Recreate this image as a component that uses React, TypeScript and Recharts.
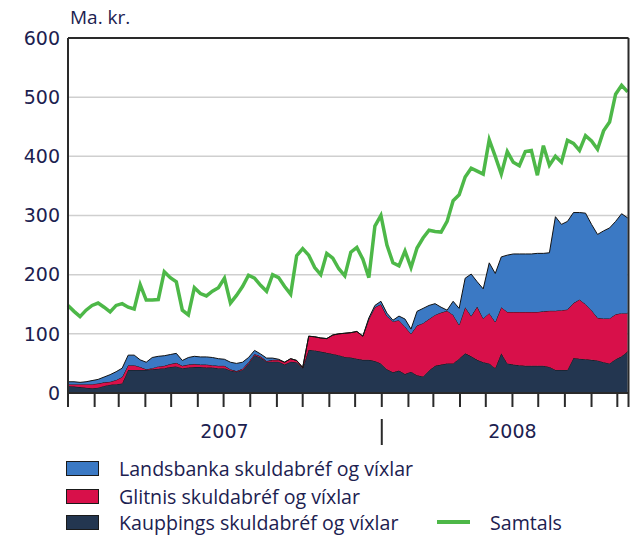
import React from 'react';
import { ComposedChart, Area, Line, XAxis, YAxis, CartesianGrid, ReferenceLine } from 'recharts';

// Weekly values (ma. kr.), starting first week of January 2007
const kaupthing = [12,11,10,9,8,9,12,14,15,16,39,39,39,39,40,41,42,44,45,42,43,44,44,43,43,42,42,38,36,39,50,64,60,53,53,53,48,53,52,42,73,72,70,68,66,64,61,60,58,56,56,54,50,40,35,38,32,36,30,28,38,46,48,50,50,58,67,62,56,52,50,42,67,50,48,47,46,46,46,46,44,39,39,39,59,58,57,56,55,52,50,57,62,70];
const glitnir = [3,4,5,6,7,7,6,5,7,11,8,8,5,1,2,4,4,5,6,4,5,5,4,5,4,4,4,2,1,2,2,2,2,1,3,3,4,5,3,1,23,23,23,24,32,36,40,42,46,40,69,91,100,90,86,85,80,64,84,90,87,86,88,89,82,57,78,68,90,74,85,78,78,87,89,90,91,91,91,92,95,100,101,102,93,100,93,84,72,74,76,76,73,65];
const landsbanki = [4,4,3,4,6,7,9,12,14,15,17,17,12,12,18,17,17,16,16,9,12,13,13,13,13,12,11,12,13,11,8,6,4,5,3,1,0,0,0,0,0,0,0,0,0,0,0,0,0,0,2,3,5,5,2,7,13,8,24,25,23,19,9,1,23,28,49,71,42,50,85,82,85,96,98,98,98,98,99,98,98,159,145,149,153,147,154,145,141,148,153,157,168,161];
const samtals = [148,138,129,140,148,152,145,137,148,151,145,142,183,157,157,158,205,195,188,140,132,178,168,164,172,178,194,152,165,180,199,194,182,172,200,195,180,167,232,244,233,212,200,236,228,210,198,238,246,226,195,282,300,250,220,215,240,212,245,262,275,273,272,290,325,335,365,380,375,370,428,400,370,408,390,384,408,410,368,418,385,400,390,427,422,410,435,426,412,443,458,505,520,509];

// Axis ticks (days since 1 Jan 2007)
const monthTickDays = [0,31,59,90,120,151,181,212,243,273,304,334,365,396,425,456,486,517,547,578,609,639,652];
const yearTickDays = [182, 365, 517];
const yearDivider = 365;
const yearLabels = ['2007', '2008'];
const yTicks = [0,100,200,300,400,500,600];
const unitLabel = 'Ma. kr.';

const names = {
  lands: 'Landsbanka skuldabréf og víxlar',
  glit: 'Glitnis skuldabréf og víxlar',
  kaup: 'Kaupþings skuldabréf og víxlar',
  total: 'Samtals',
};

const COLORS = {
  lands: '#3b79c4',
  glit: '#d8104a',
  kaup: '#233650',
  total: '#4db848',
  text: '#1c2150',
  axis: '#2a2a2a',
};

const FONT = '"Open Sans", "DejaVu Sans", sans-serif';
const NUM_FONT = '"DejaVu Sans", "Open Sans", sans-serif';

const data = samtals.map((t, i) => ({
  day: i * 7,
  kaup: kaupthing[i],
  glit: glitnir[i],
  lands: landsbanki[i],
  total: t,
}));

const YearTick = (props: any) => {
  const { x, y, payload } = props;
  if (payload.value === yearDivider) {
    return <line x1={x} x2={x} y1={y + 12} y2={y + 38} stroke={COLORS.axis} strokeWidth={2} />;
  }
  const label = payload.value < yearDivider ? yearLabels[0] : yearLabels[1];
  return (
    <text x={x} y={y + 31} textAnchor="middle" fill={COLORS.text} fontSize={19} fontFamily={NUM_FONT}>
      {label}
    </text>
  );
};

const Swatch = ({ color }: { color: string }) => (
  <div style={{ width: 31, height: 13, background: color, border: '1.5px solid #1a1a1a', boxSizing: 'content-box' }} />
);

export default function App() {
  const legendRow = (top: number, key: 'lands' | 'glit' | 'kaup') => (
    <div style={{ position: 'absolute', left: 66, top, display: 'flex', alignItems: 'center', height: 24 }}>
      <Swatch color={COLORS[key]} />
      <span style={{ marginLeft: 20, fontFamily: FONT, fontSize: 19.6, color: COLORS.text, whiteSpace: 'nowrap' }}>{names[key]}</span>
    </div>
  );
  return (
    <div style={{ position: 'absolute', left: 0, top: 0, width: 630, height: 536, background: '#fff' }}>
      <ComposedChart
        width={630}
        height={536}
        data={data}
        margin={{ top: 38, right: 1.5, bottom: 79, left: 0 }}
      >
        <CartesianGrid vertical={false} stroke="#cfcfcf" strokeWidth={1.5} />
        <XAxis
          dataKey="day"
          type="number"
          domain={[0, 652]}
          ticks={monthTickDays}
          tickFormatter={() => ''}
          tickSize={14}
          height={14}
          interval={0}
          stroke={COLORS.axis}
          tickLine={{ stroke: COLORS.axis, strokeWidth: 2 }}
          axisLine={{ stroke: COLORS.axis, strokeWidth: 2 }}
        />
        <XAxis
          xAxisId="year"
          dataKey="day"
          type="number"
          domain={[0, 652]}
          ticks={yearTickDays}
          interval={0}
          height={50}
          axisLine={false}
          tickLine={false}
          tickSize={0}
          tickMargin={0}
          tick={<YearTick />}
        />
        <YAxis
          domain={[0, 600]}
          ticks={yTicks}
          width={68}
          tickLine={false}
          tickSize={0}
          tickMargin={8}
          axisLine={{ stroke: COLORS.axis, strokeWidth: 2 }}
          tick={{ fill: COLORS.text, fontSize: 19, fontFamily: NUM_FONT }}
        />
        <Area type="linear" dataKey="kaup" stackId="a" stroke="#111" strokeWidth={1} fill={COLORS.kaup} fillOpacity={1} isAnimationActive={false} />
        <Area type="linear" dataKey="glit" stackId="a" stroke="#111" strokeWidth={1} fill={COLORS.glit} fillOpacity={1} isAnimationActive={false} />
        <Area type="linear" dataKey="lands" stackId="a" stroke="#111" strokeWidth={1} fill={COLORS.lands} fillOpacity={1} isAnimationActive={false} />
        <Line type="linear" dataKey="total" stroke={COLORS.total} strokeWidth={3.5} dot={false} isAnimationActive={false} />
        <ReferenceLine y={600} stroke={COLORS.axis} strokeWidth={2} />
        <ReferenceLine x={652} stroke={COLORS.axis} strokeWidth={2} />
      </ComposedChart>
      <div style={{ position: 'absolute', left: 70, top: 4, fontFamily: FONT, fontSize: 19, color: COLORS.text }}>{unitLabel}</div>
      {legendRow(456, 'lands')}
      {legendRow(484, 'glit')}
      {legendRow(510, 'kaup')}
      <div style={{ position: 'absolute', left: 437, top: 510, display: 'flex', alignItems: 'center', height: 24 }}>
        <div style={{ width: 33, height: 4, background: COLORS.total }} />
        <span style={{ marginLeft: 20, fontFamily: FONT, fontSize: 19.6, color: COLORS.text }}>{names.total}</span>
      </div>
    </div>
  );
}
